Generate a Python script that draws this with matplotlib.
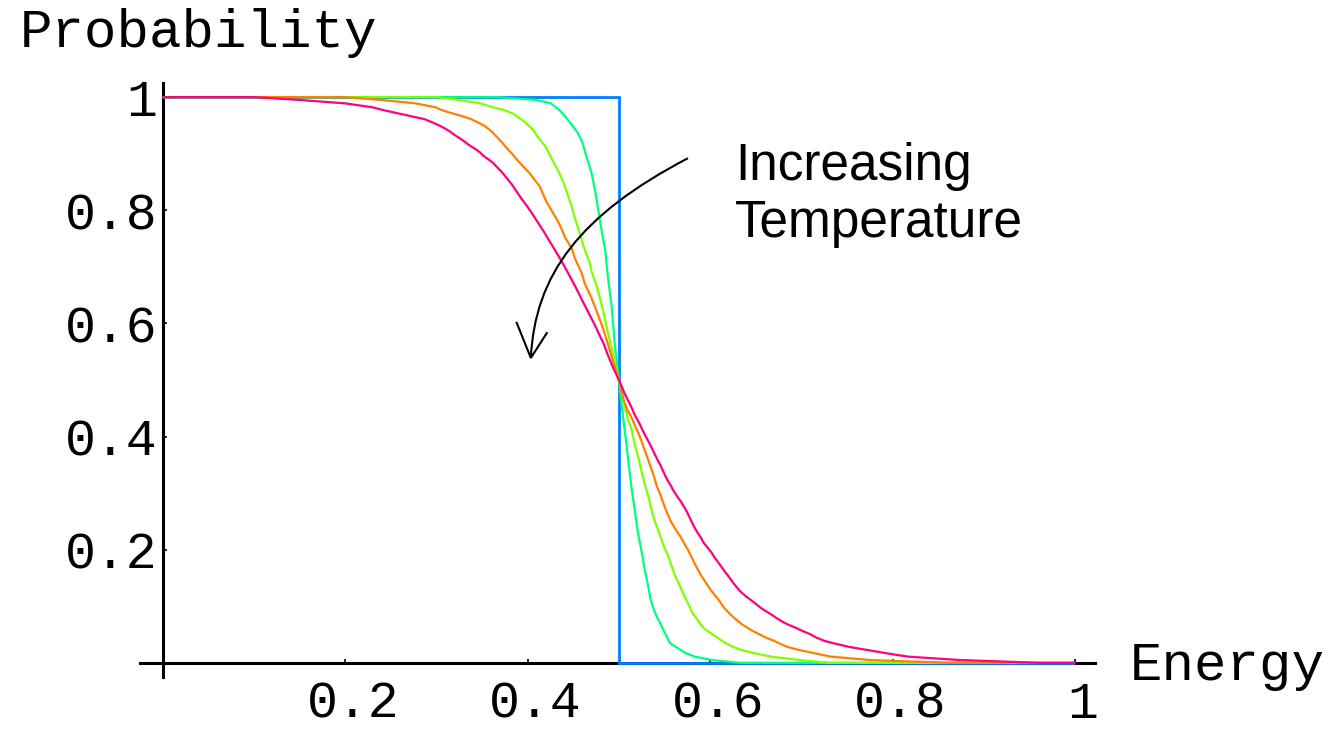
import matplotlib
matplotlib.use("Agg")
import matplotlib.pyplot as plt
from matplotlib.path import Path
from matplotlib.patches import PathPatch
from matplotlib.transforms import ScaledTranslation

# ---------------- data ----------------
x_ticks = [0.2, 0.4, 0.6, 0.8, 1.0]
x_tick_labels = ["0.2", "0.4", "0.6", "0.8", "1"]
y_ticks = [0.2, 0.4, 0.6, 0.8, 1.0]
y_tick_labels = ["0.2", "0.4", "0.6", "0.8", "1"]

# T = 0 (step)
blue_x = [0.0, 0.5, 0.5, 1.0]
blue_y = [1.0, 1.0, 0.0, 0.0]

green_x = [0.0, 0.367, 0.41, 0.4254, 0.435, 0.44, 0.448, 0.455, 0.46, 0.463,
           0.47, 0.474, 0.481, 0.485, 0.488, 0.492, 0.4956, 0.4984, 0.5,
           0.5016, 0.5044, 0.5077, 0.511, 0.5143, 0.5175, 0.5208, 0.5252,
           0.5285, 0.5318, 0.535, 0.5384, 0.5417, 0.545, 0.549, 0.5526, 0.556,
           0.5625, 0.5724, 0.583, 0.602, 0.633, 1.0]
green_y = [1.0, 1.0, 0.995, 0.989, 0.977, 0.968, 0.952, 0.937, 0.920, 0.903,
           0.866, 0.834, 0.765, 0.730, 0.682, 0.632, 0.562, 0.523, 0.5,
           0.477, 0.438, 0.394, 0.348, 0.304, 0.269, 0.231, 0.194,
           0.164, 0.138, 0.111, 0.094, 0.081, 0.071, 0.058, 0.046, 0.035,
           0.028, 0.018, 0.011, 0.005, 0.0, 0.0]

yellow_x = [0.0, 0.30, 0.325, 0.348, 0.362, 0.375, 0.385, 0.397, 0.406, 0.411,
            0.419, 0.423, 0.4276, 0.434, 0.4386, 0.443, 0.4485, 0.452, 0.457,
            0.4605, 0.468, 0.4704, 0.476, 0.480, 0.4836, 0.487, 0.4923, 0.4978,
            0.5, 0.5022, 0.5055, 0.5099, 0.5143, 0.5175, 0.522, 0.5252, 0.5285,
            0.533, 0.536, 0.5395, 0.5439, 0.547, 0.5504, 0.5548, 0.558, 0.5614,
            0.5658, 0.569, 0.5724, 0.5768, 0.580, 0.5844, 0.5877, 0.594, 0.6075,
            0.616, 0.624, 0.634, 0.646, 0.667, 0.698, 0.731, 1.0]
yellow_y = [1.0, 1.0, 0.995, 0.989, 0.982, 0.977, 0.970, 0.956, 0.942, 0.930,
            0.914, 0.902, 0.887, 0.868, 0.852, 0.832, 0.805, 0.785, 0.760,
            0.740, 0.707, 0.690, 0.664, 0.640, 0.617, 0.590, 0.555, 0.516,
            0.5, 0.484, 0.461, 0.431, 0.410, 0.385, 0.359, 0.336, 0.315,
            0.290, 0.269, 0.250, 0.231, 0.216, 0.202, 0.186, 0.170, 0.155,
            0.140, 0.128, 0.116, 0.102, 0.090, 0.080, 0.072, 0.060, 0.045,
            0.036, 0.029, 0.023, 0.018, 0.011, 0.005, 0.0, 0.0]

orange_x = [0.0, 0.2, 0.24, 0.277, 0.299, 0.306, 0.316, 0.329, 0.338, 0.346,
            0.353, 0.36, 0.366, 0.373, 0.377, 0.384, 0.389, 0.402, 0.406, 0.413,
            0.417, 0.421, 0.4265, 0.433, 0.4375, 0.441, 0.4485, 0.452, 0.459,
            0.4627, 0.470, 0.476, 0.4825, 0.487, 0.493, 0.5, 0.5055, 0.5099,
            0.5143, 0.5175, 0.522, 0.5252, 0.5285, 0.533, 0.5384, 0.5417, 0.546,
            0.549, 0.5526, 0.557, 0.5625, 0.568, 0.5713, 0.5757, 0.579, 0.582,
            0.5855, 0.590, 0.5965, 0.601, 0.6096, 0.615, 0.622, 0.629, 0.635,
            0.646, 0.6535, 0.662, 0.670, 0.6765, 0.685, 0.697, 0.7116, 0.7325,
            0.775, 0.863, 1.0]
orange_y = [1.0, 1.0, 0.995, 0.989, 0.982, 0.977, 0.972, 0.966, 0.961, 0.955,
            0.949, 0.940, 0.930, 0.918, 0.910, 0.898, 0.888, 0.866, 0.857, 0.843,
            0.828, 0.814, 0.799, 0.781, 0.766, 0.752, 0.732, 0.714, 0.690,
            0.670, 0.645, 0.620, 0.592, 0.569, 0.537, 0.5, 0.463, 0.445,
            0.432, 0.420, 0.404, 0.390, 0.375, 0.355, 0.330, 0.312, 0.295,
            0.281, 0.266, 0.250, 0.235, 0.222, 0.212, 0.200, 0.189, 0.179,
            0.168, 0.155, 0.139, 0.128, 0.111, 0.098, 0.086, 0.076, 0.068,
            0.057, 0.051, 0.044, 0.039, 0.034, 0.028, 0.023, 0.018, 0.011,
            0.005, 0.0, 0.0]

pink_x = [0.0, 0.1, 0.15, 0.2, 0.23, 0.242, 0.256, 0.273, 0.287, 0.296, 0.303,
          0.31, 0.315, 0.32, 0.326, 0.331, 0.336, 0.342, 0.348, 0.351, 0.356,
          0.362, 0.366, 0.372, 0.377, 0.383, 0.388, 0.3925, 0.399, 0.4046,
          0.409, 0.4134, 0.419, 0.423, 0.4276, 0.435, 0.441, 0.446, 0.452,
          0.457, 0.4616, 0.468, 0.474, 0.478, 0.4836, 0.487, 0.4923, 0.5,
          0.5033, 0.5066, 0.511, 0.5143, 0.5175, 0.522, 0.5252, 0.5285, 0.533,
          0.536, 0.5417, 0.546, 0.549, 0.5526, 0.557, 0.560, 0.5636, 0.568,
          0.5713, 0.5746, 0.579, 0.582, 0.5855, 0.590, 0.593, 0.5976, 0.602,
          0.605, 0.6096, 0.615, 0.622, 0.626, 0.6327, 0.639, 0.648, 0.6557,
          0.6656, 0.673, 0.680, 0.6864, 0.694, 0.7018, 0.7094, 0.716, 0.725,
          0.737, 0.753, 0.775, 0.797, 0.817, 0.874, 0.962, 1.0]
pink_y = [1.0, 1.0, 0.995, 0.989, 0.982, 0.977, 0.972, 0.966, 0.961, 0.955, 0.950,
          0.944, 0.939, 0.933, 0.927, 0.921, 0.915, 0.909, 0.902, 0.897, 0.891,
          0.884, 0.877, 0.867, 0.857, 0.845, 0.833, 0.822, 0.808, 0.795,
          0.784, 0.773, 0.759, 0.748, 0.736, 0.716, 0.699, 0.684, 0.666,
          0.650, 0.635, 0.615, 0.596, 0.582, 0.563, 0.548, 0.527, 0.5,
          0.488, 0.475, 0.461, 0.450, 0.438, 0.425, 0.414, 0.403, 0.390,
          0.380, 0.361, 0.348, 0.337, 0.325, 0.313, 0.304, 0.295, 0.285,
          0.276, 0.267, 0.252, 0.242, 0.232, 0.221, 0.212, 0.203, 0.194,
          0.186, 0.176, 0.164, 0.149, 0.140, 0.127, 0.118, 0.107, 0.097,
          0.087, 0.079, 0.072, 0.067, 0.062, 0.056, 0.051, 0.045, 0.039,
          0.034, 0.028, 0.022, 0.016, 0.011, 0.005, 0.0, 0.0]

series = [
    ("blue", blue_x, blue_y, "#0080FF", 2.0),
    ("green", green_x, green_y, "#00FF80", 1.6),
    ("yellow", yellow_x, yellow_y, "#80FF00", 1.6),
    ("orange", orange_x, orange_y, "#FF8000", 1.6),
    ("pink", pink_x, pink_y, "#FF0080", 1.6),
]

# ---------------- figure ----------------
fig = plt.figure(figsize=(13.33, 7.35), dpi=100)
ax = fig.add_axes([140 / 1333, 1 - 677 / 735, 955 / 1333, 594 / 735])
ax.set_xlim(-0.025, 1.022)
ax.set_ylim(-0.025, 1.025)

for name, xs, ys, col, lw in series:
    assert len(xs) == len(ys), name
    ax.plot(xs, ys, color=col, lw=lw, zorder=3, solid_joinstyle="miter",
            solid_capstyle="butt")

for side in ("top", "right"):
    ax.spines[side].set_visible(False)
ax.spines["left"].set_position(("data", 0))
ax.spines["bottom"].set_position(("data", 0))
for side in ("left", "bottom"):
    ax.spines[side].set_linewidth(2.2)
    ax.spines[side].set_color("black")

tick_font = dict(family="Liberation Mono", size=37)
ax.set_xticks(x_ticks)
ax.set_xticklabels(x_tick_labels, fontdict=tick_font)
ax.set_yticks(y_ticks)
ax.set_yticklabels(y_tick_labels, fontdict=tick_font)
ax.tick_params(axis="x", direction="in", length=3, width=1.2, pad=12)
ax.tick_params(axis="y", direction="in", length=3, width=1.2, pad=4)
shift = ScaledTranslation(8 / 100, 0, fig.dpi_scale_trans)
for lab in ax.get_xticklabels():
    lab.set_transform(lab.get_transform() + shift)

# axis titles
fig.text(20 / 1333, 1 - 47 / 735, "Probability", family="Liberation Mono",
         fontsize=39, ha="left", va="baseline")
fig.text(1130 / 1333, 1 - 680 / 735, "Energy", family="Liberation Mono",
         fontsize=39, ha="left", va="baseline")

# annotation
fig.text(735 / 1333, 1 - 180 / 735, "Increasing", family="Liberation Sans",
         fontsize=37, ha="left", va="baseline")
fig.text(735 / 1333, 1 - 237 / 735, "Temperature", family="Liberation Sans",
         fontsize=37, ha="left", va="baseline")

arrow_verts = [(0.5757, 0.892), (0.457, 0.792), (0.408, 0.686), (0.4035, 0.539)]
arrow_path = Path(arrow_verts, [Path.MOVETO, Path.CURVE4, Path.CURVE4, Path.CURVE4])
ax.add_patch(PathPatch(arrow_path, fill=False, edgecolor="black", lw=1.5,
                       zorder=4, clip_on=False))
head_x = [0.388, 0.4035, 0.421]
head_y = [0.601, 0.539, 0.583]
ax.plot(head_x, head_y, color="black", lw=1.5, zorder=4, clip_on=False,
        solid_joinstyle="miter")

fig.savefig("out.png", dpi=100)
